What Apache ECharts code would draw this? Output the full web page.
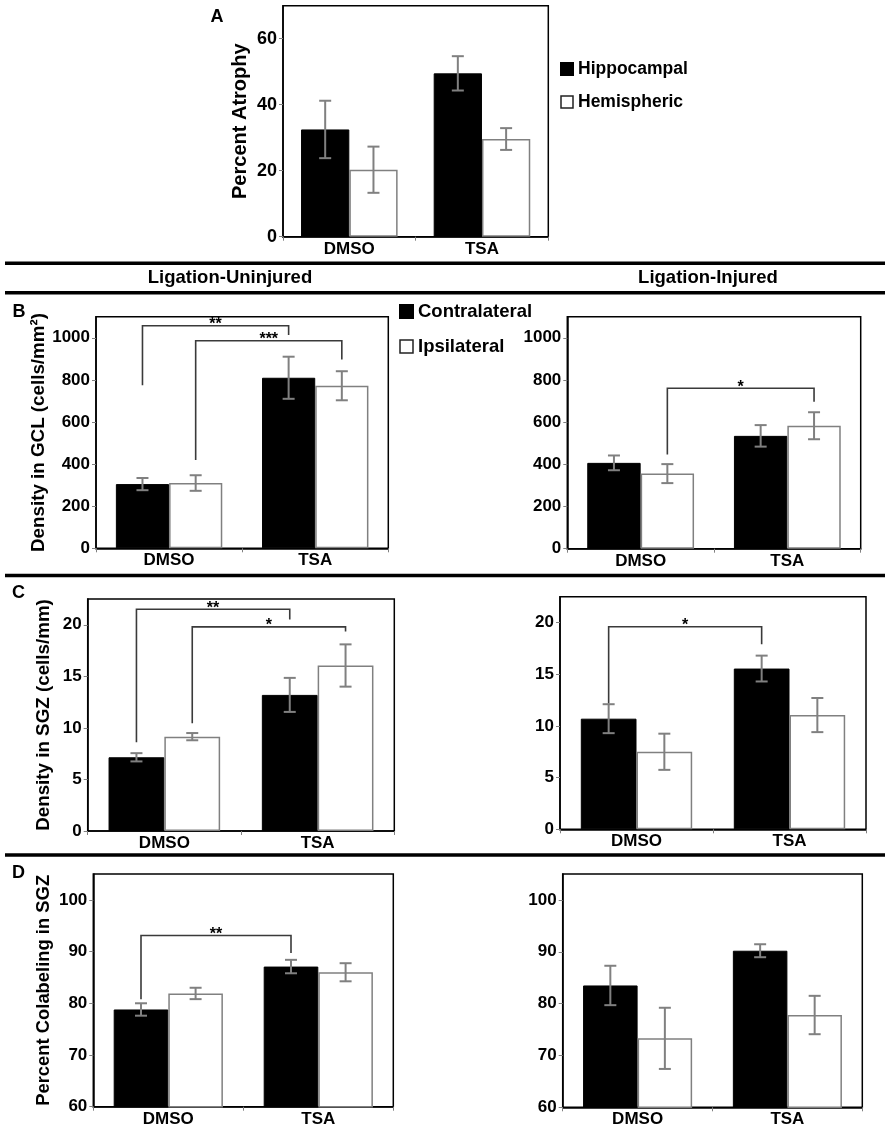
<!DOCTYPE html>
<html>
<head>
<meta charset="utf-8">
<script src="https://cdn.jsdelivr.net/npm/echarts@6/dist/echarts.min.js"></script>
<style>
html, body { margin: 0; padding: 0; background: #fff; }
#main { width: 892px; height: 1131px; }
</style>
</head>
<body>
<div id="main"></div>
<script>
// data (means and error half-widths)
var categories = ['DMSO', 'TSA'];

// A - percent atrophy
var atrophyHippocampal = [32.5, 49.5];
var atrophyHippocampalErr = [8.7, 5.2];
var atrophyHemispheric = [20.3, 29.6];
var atrophyHemisphericErr = [7.0, 3.3];

// B - density in GCL
var gclUninjuredContra = [305, 810];
var gclUninjuredContraErr = [29, 100];
var gclUninjuredIpsi = [310, 772];
var gclUninjuredIpsiErr = [37, 69];
var gclInjuredContra = [407, 535];
var gclInjuredContraErr = [35, 51];
var gclInjuredIpsi = [356, 583];
var gclInjuredIpsiErr = [45, 64];

// C - density in SGZ
var sgzUninjuredContra = [7.15, 13.2];
var sgzUninjuredContraErr = [0.4, 1.65];
var sgzUninjuredIpsi = [9.15, 16.05];
var sgzUninjuredIpsiErr = [0.35, 2.05];
var sgzInjuredContra = [10.7, 15.55];
var sgzInjuredContraErr = [1.4, 1.25];
var sgzInjuredIpsi = [7.5, 11.05];
var sgzInjuredIpsiErr = [1.75, 1.65];

// D - percent colabeling in SGZ
var colabUninjuredContra = [78.8, 87.1];
var colabUninjuredContraErr = [1.2, 1.3];
var colabUninjuredIpsi = [81.9, 86.0];
var colabUninjuredIpsiErr = [1.1, 1.75];
var colabInjuredContra = [83.5, 90.2];
var colabInjuredContraErr = [3.8, 1.25];
var colabInjuredIpsi = [73.3, 77.8];
var colabInjuredIpsiErr = [5.9, 3.7];

// tick labels
var ticksA = [0, 20, 40, 60];
var ticksGCL = [0, 200, 400, 600, 800, 1000];
var ticksSGZ = [0, 5, 10, 15, 20];
var ticksColab = [60, 70, 80, 90, 100];

// significance brackets: [fromCategory, fromSide, toCategory, toSide, startY, topY, endY]
// side 0 = black bar, 1 = white bar
var bracketsGclUninjured = [[0, 0, 1, 0, 775, 1057, 1013], [0, 1, 1, 1, 419, 986, 897]];
var starsGclUninjured = ['**', '***'];
var bracketsGclInjured = [[0, 1, 1, 1, 447, 761, 697]];
var starsGclInjured = ['*'];
var bracketsSgzUninjured = [[0, 0, 1, 0, 8.6, 21.5, 20.5], [0, 1, 1, 1, 10.45, 19.8, 19.35]];
var starsSgzUninjured = ['**', '*'];
var bracketsSgzInjured = [[0, 0, 1, 0, 12.2, 19.6, 17.9]];
var starsSgzInjured = ['*'];
var bracketsColabUninjured = [[0, 0, 1, 0, 80.8, 93.1, 89.7]];
var starsColabUninjured = ['**'];

var FONT = 'Arial, "Liberation Sans", sans-serif';
var BAR_FRAC = 0.364;

var panels = [
    { grid: { left: 283, top: 5.7, width: 265.3, height: 231 }, min: 0, max: 70, ticks: ticksA,
      names: ['Hippocampal', 'Hemispheric'], yName: 'Percent Atrophy', nameGap: 33, fs: 18, nfs: 20,
      black: atrophyHippocampal, blackErr: atrophyHippocampalErr, white: atrophyHemispheric, whiteErr: atrophyHemisphericErr },
    { grid: { left: 96, top: 316.7, width: 292.3, height: 231.6 }, min: 0, max: 1100, ticks: ticksGCL,
      names: ['Contralateral', 'Ipsilateral'], yName: 'Density in GCL (cells/mm²)', nameGap: 43, fs: 17, nfs: 18.8,
      black: gclUninjuredContra, blackErr: gclUninjuredContraErr, white: gclUninjuredIpsi, whiteErr: gclUninjuredIpsiErr,
      brackets: bracketsGclUninjured, stars: starsGclUninjured },
    { grid: { left: 567.3, top: 316.7, width: 293.4, height: 232 }, min: 0, max: 1100, ticks: ticksGCL,
      names: ['Contralateral', 'Ipsilateral'], yName: '', fs: 17, nfs: 18.8,
      black: gclInjuredContra, blackErr: gclInjuredContraErr, white: gclInjuredIpsi, whiteErr: gclInjuredIpsiErr,
      brackets: bracketsGclInjured, stars: starsGclInjured },
    { grid: { left: 87.7, top: 599, width: 306.6, height: 232 }, min: 0, max: 22.5, ticks: ticksSGZ,
      names: ['Contralateral', 'Ipsilateral'], yName: 'Density in SGZ (cells/mm)', nameGap: 34, fs: 17, nfs: 18.8,
      black: sgzUninjuredContra, blackErr: sgzUninjuredContraErr, white: sgzUninjuredIpsi, whiteErr: sgzUninjuredIpsiErr,
      brackets: bracketsSgzUninjured, stars: starsSgzUninjured },
    { grid: { left: 560, top: 596.7, width: 306, height: 232.6 }, min: 0, max: 22.5, ticks: ticksSGZ,
      names: ['Contralateral', 'Ipsilateral'], yName: '', fs: 17, nfs: 18.8,
      black: sgzInjuredContra, blackErr: sgzInjuredContraErr, white: sgzInjuredIpsi, whiteErr: sgzInjuredIpsiErr,
      brackets: bracketsSgzInjured, stars: starsSgzInjured },
    { grid: { left: 93.3, top: 874, width: 300, height: 232.7 }, min: 60, max: 105, ticks: ticksColab,
      names: ['Contralateral', 'Ipsilateral'], yName: 'Percent Colabeling in SGZ', nameGap: 40, fs: 17, nfs: 18.4,
      black: colabUninjuredContra, blackErr: colabUninjuredContraErr, white: colabUninjuredIpsi, whiteErr: colabUninjuredIpsiErr,
      brackets: bracketsColabUninjured, stars: starsColabUninjured },
    { grid: { left: 562.7, top: 874, width: 299.6, height: 233.3 }, min: 60, max: 105, ticks: ticksColab,
      names: ['Contralateral', 'Ipsilateral'], yName: '', fs: 17, nfs: 18.4,
      black: colabInjuredContra, blackErr: colabInjuredContraErr, white: colabInjuredIpsi, whiteErr: colabInjuredIpsiErr }
];

function sideOffset(api, side) {
    var band = api.size([1, 0])[0];
    return (side === 0 ? -1 : 1) * band * BAR_FRAC / 2;
}

// error bars drawn through the axes
function errorSeries(i, p) {
    var data = [];
    for (var k = 0; k < categories.length; k++) {
        data.push([k, p.black[k], p.blackErr[k], 0]);
        data.push([k, p.white[k], p.whiteErr[k], 1]);
    }
    return {
        type: 'custom',
        xAxisIndex: i,
        yAxisIndex: i,
        silent: true,
        z: 5,
        encode: { x: 0, y: 1 },
        data: data,
        renderItem: function (params, api) {
            var cat = api.value(0), v = api.value(1), e = api.value(2), side = api.value(3);
            var hi = api.coord([cat, v + e]);
            var lo = api.coord([cat, v - e]);
            var x = hi[0] + sideOffset(api, side);
            var cap = 6;
            var st = { stroke: '#808080', lineWidth: 2 };
            return {
                type: 'group',
                children: [
                    { type: 'line', shape: { x1: x, y1: hi[1], x2: x, y2: lo[1] }, style: st },
                    { type: 'line', shape: { x1: x - cap, y1: hi[1], x2: x + cap, y2: hi[1] }, style: st },
                    { type: 'line', shape: { x1: x - cap, y1: lo[1], x2: x + cap, y2: lo[1] }, style: st }
                ]
            };
        }
    };
}

function bracketSeries(i, list, stars) {
    return {
        type: 'custom',
        xAxisIndex: i,
        yAxisIndex: i,
        silent: true,
        z: 6,
        encode: { x: 0, y: 5 },
        data: list,
        renderItem: function (params, api) {
            var c1 = api.value(0), s1 = api.value(1), c2 = api.value(2), s2 = api.value(3);
            var a = api.coord([c1, api.value(4)]);
            var t = api.coord([c1, api.value(5)]);
            var b = api.coord([c2, api.value(6)]);
            var x1 = a[0] + sideOffset(api, s1);
            var x2 = b[0] + sideOffset(api, s2);
            return {
                type: 'group',
                children: [
                    { type: 'polyline', shape: { points: [[x1, a[1]], [x1, t[1]], [x2, t[1]], [x2, b[1]]] },
                      style: { stroke: '#3a3a3a', lineWidth: 1.6, fill: null } },
                    { type: 'text', x: (x1 + x2) / 2, y: t[1] - 1,
                      style: { text: stars[params.dataIndex], fill: '#000', font: 'bold 16px ' + FONT,
                               align: 'center', verticalAlign: 'middle' } }
                ]
            };
        }
    };
}

var grids = [], xAxes = [], yAxes = [], series = [];
panels.forEach(function (p, i) {
    grids.push(Object.assign({ show: true, borderColor: '#000', borderWidth: 1.5, backgroundColor: 'transparent' }, p.grid));
    xAxes.push({
        type: 'category',
        gridIndex: i,
        data: categories,
        axisLine: { lineStyle: { color: '#000', width: 1.5 } },
        axisTick: { show: true, length: 4, lineStyle: { color: '#808080' } },
        axisLabel: { color: '#000', fontWeight: 'bold', fontSize: 17, fontFamily: FONT, margin: 4 },
        splitLine: { show: false }
    });
    yAxes.push({
        type: 'value',
        gridIndex: i,
        min: p.min,
        max: p.max,
        name: p.yName,
        nameLocation: 'middle',
        nameRotate: 90,
        nameGap: p.nameGap || 30,
        nameTextStyle: { color: '#000', fontWeight: 'bold', fontSize: p.nfs, fontFamily: FONT },
        axisLine: { show: true, lineStyle: { color: '#000', width: 1.5 } },
        axisTick: { show: true, length: 4, customValues: p.ticks, lineStyle: { color: '#808080' } },
        axisLabel: {
            color: '#000', fontWeight: 'bold', fontSize: p.fs, fontFamily: FONT, margin: 6,
            customValues: p.ticks,
            formatter: function (v) { return String(v); }
        },
        splitLine: { show: false }
    });
    series.push({
        type: 'bar', name: p.names[0], xAxisIndex: i, yAxisIndex: i,
        data: p.black, barWidth: (BAR_FRAC * 100) + '%', barGap: '0%', silent: true,
        itemStyle: { color: '#000', borderColor: '#000', borderWidth: 1 }
    });
    series.push({
        type: 'bar', name: p.names[1], xAxisIndex: i, yAxisIndex: i,
        data: p.white, barWidth: (BAR_FRAC * 100) + '%', barGap: '0%', silent: true,
        itemStyle: { color: '#fff', borderColor: '#808080', borderWidth: 1.5 }
    });
    series.push(errorSeries(i, p));
    if (p.brackets) {
        series.push(bracketSeries(i, p.brackets, p.stars));
    }
});

function sepLine(cy) {
    return { type: 'rect', shape: { x: 5, y: cy - 1.7, width: 880, height: 3.4 }, style: { fill: '#000' } };
}
function label(text, x, y, size, align) {
    return { type: 'text', x: x, y: y,
             style: { text: text, fill: '#000', font: 'bold ' + size + 'px ' + FONT, align: align || 'center', verticalAlign: 'middle' } };
}

var option = {
    animation: false,
    backgroundColor: '#fff',
    grid: grids,
    xAxis: xAxes,
    yAxis: yAxes,
    legend: [
        {
            data: ['Hippocampal', { name: 'Hemispheric', itemStyle: { borderColor: '#222', borderWidth: 1.5 } }],
            orient: 'vertical', left: 560, top: 60, padding: 0, itemWidth: 12, itemHeight: 12, itemGap: 15,
            icon: 'rect', selectedMode: false,
            textStyle: { color: '#000', fontWeight: 'bold', fontSize: 17.5, fontFamily: FONT, lineHeight: 18 }
        },
        {
            data: ['Contralateral', { name: 'Ipsilateral', itemStyle: { borderColor: '#222', borderWidth: 1.5 } }],
            orient: 'vertical', left: 399, top: 302, padding: 0, itemWidth: 13, itemHeight: 13, itemGap: 16,
            icon: 'rect', selectedMode: false,
            textStyle: { color: '#000', fontWeight: 'bold', fontSize: 18.5, fontFamily: FONT, lineHeight: 19 }
        }
    ],
    graphic: [
        sepLine(263.3), sepLine(292.7), sepLine(575.5), sepLine(855),
        label('Ligation-Uninjured', 230, 278.3, 18.5),
        label('Ligation-Injured', 708, 278.3, 18.5),
        label('A', 217, 17.5, 18),
        label('B', 19, 311.7, 18),
        label('C', 18.5, 593.3, 18),
        label('D', 18.5, 873.3, 18)
    ],
    series: series
};

var myChart = echarts.init(document.getElementById('main'), null, { renderer: 'canvas' });
myChart.setOption(option);
window.addEventListener('resize', myChart.resize);
</script>
</body>
</html>
